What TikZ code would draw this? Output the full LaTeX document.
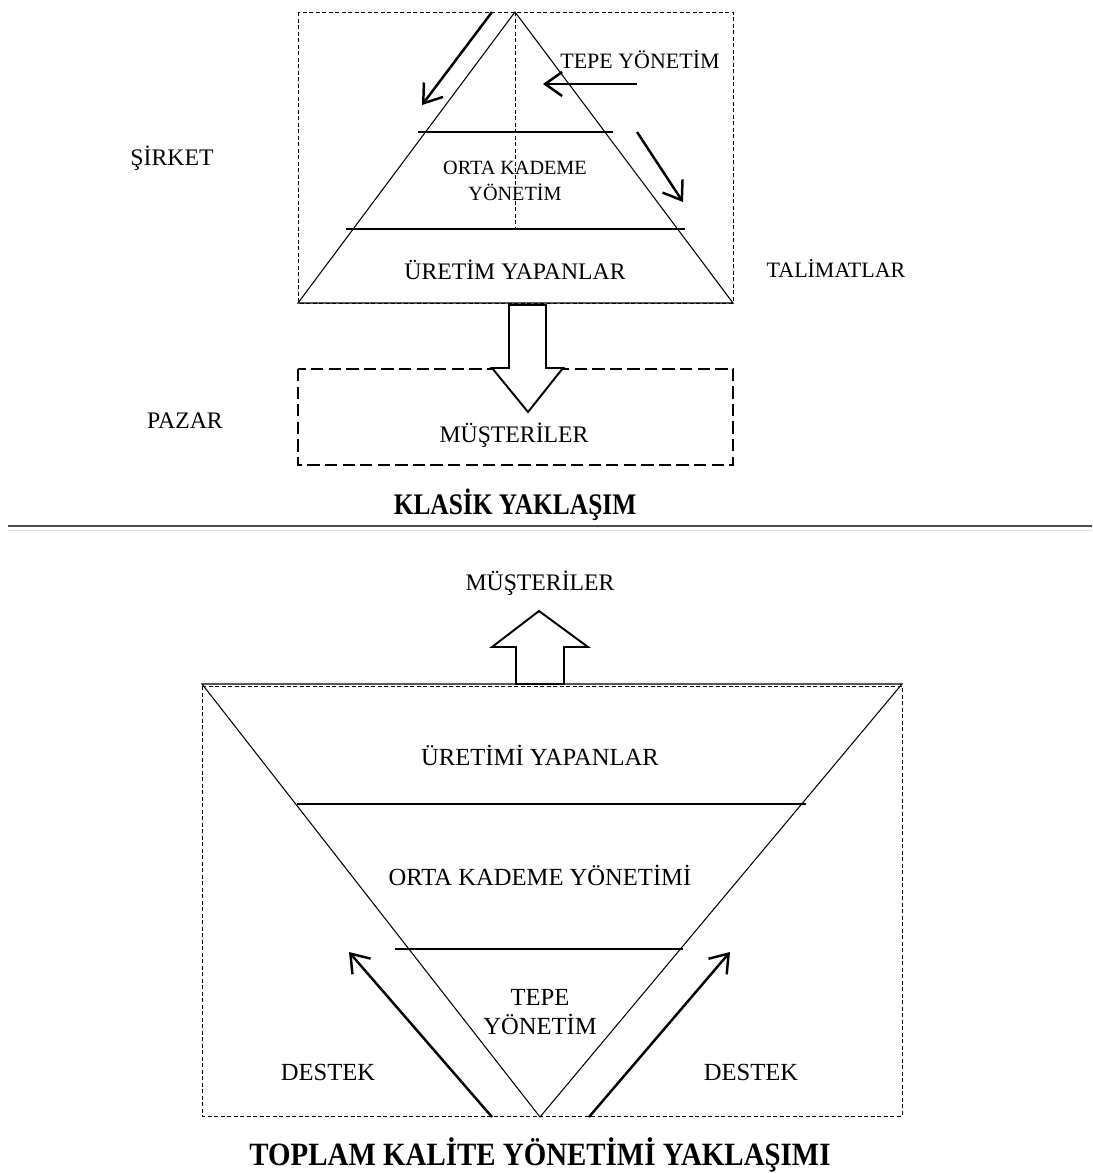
\documentclass[tikz,border=0pt]{standalone}
\usepackage{fontspec}
\setmainfont{Liberation Serif}
\usetikzlibrary{arrows.meta, positioning}

\newcommand{\narrowtext}[2]{\scalebox{#1}[1]{#2}}

\begin{document}
\begin{tikzpicture}[
            x=0.02cm, y=-0.02cm,
            edge/.style={line width=0.6pt},
            finedash/.style={draw, line width=0.5pt, dash pattern=on 2.3pt off 1.4pt},
            boxdash/.style={draw, line width=0.9pt, dash pattern=on 7pt off 3pt},
            arr/.style={-{Straight Barb[length=3.4mm, width=4.8mm]}, line width=1.4pt},
            hollow/.style={draw, line width=1.1pt, fill=white, line join=miter},
            lbl/.style={font=\fontsize{13.5}{16}\selectfont, inner sep=1pt, align=center},
            blbl/.style={font=\fontsize{14}{17}\selectfont, inner sep=1pt, align=center},
            ttl/.style={font=\fontsize{17}{20}\selectfont\bfseries, inner sep=1pt}
          ]
          \useasboundingbox (0,0) rectangle (1092,1173);

          % klasik yaklasim
          \coordinate (apex)  at (515,12);
          \coordinate (bl)    at (298,303);
          \coordinate (br)    at (733,303);
          \coordinate (mid)   at (515,229);
          \draw[finedash] (298,12) rectangle (733,303);
          \draw[edge] (bl) -- (apex) -- (br) -- cycle;
          \draw[edge] (418,132) -- (613,132);
          \draw[edge] (346,229) -- (685,229);
          \draw[finedash] (apex) -- (mid);

          \coordinate (a1s) at (492,12);   \coordinate (a1e) at (422,105);
          \coordinate (a2s) at (637,84);   \coordinate (a2e) at (543,84);
          \coordinate (a3s) at (637,132);  \coordinate (a3e) at (683,202);
          \draw[arr] (a1s) -- (a1e);
          \draw[arr] (a2s) -- (a2e);
          \draw[arr] (a3s) -- (a3e);

          \node[lbl, font=\fontsize{12.5}{15}\selectfont] (tepe) at (640,60) {TEPE YÖNETİM};
          \node[lbl, font=\fontsize{11.5}{14.7}\selectfont] (orta) at (515,181) {ORTA KADEME\\YÖNETİM};
          \node[lbl] (uret)    at (515,270) {ÜRETİM YAPANLAR};
          \node[lbl] (sirket)  at (172,158) {ŞİRKET};
          \node[lbl, font=\fontsize{12.5}{15}\selectfont] (talimat) at (836,268) {TALİMATLAR};
          \node[lbl] (pazar)   at (185,421) {PAZAR};

          \draw[boxdash] (298,369) rectangle (733,465);
          \node[lbl] (must) at (514,435) {MÜŞTERİLER};
          \draw[hollow] (509,305) -- (546,305) -- (546,368) -- (563,368) -- (528,412)
                        -- (492,368) -- (509,368) -- cycle;

          \node[ttl] (klasik) at (515,505) {\narrowtext{0.85}{KLASİK YAKLAŞIM}};

          % ayirici
          \draw[line width=1.2pt, black!70] (8,526) -- (1092,526);
          \draw[line width=0.9pt, black!12] (8,530.5) -- (1092,530.5);

          % toplam kalite yonetimi
          \coordinate (tl)   at (202,684);
          \coordinate (tr)   at (902,684);
          \coordinate (vtx)  at (540,1117);
          \draw[finedash] (202,686) rectangle (902,1116);
          \draw[edge] (tl) -- (tr) -- (vtx) -- cycle;
          \draw[edge] (297,804) -- (806,804);
          \draw[edge] (395,949) -- (683,949);

          \coordinate (d1s) at (492,1117); \coordinate (d1e) at (349,952);
          \coordinate (d2s) at (589,1117); \coordinate (d2e) at (730,952);
          \draw[arr] (d1s) -- (d1e);
          \draw[arr] (d2s) -- (d2e);

          \node[lbl] (must2) at (540,583) {MÜŞTERİLER};
          \draw[hollow] (516,684) -- (564,684) -- (564,647) -- (588,647) -- (539,611)
                        -- (492,647) -- (516,647) -- cycle;

          \node[blbl] (uret2)  at (540,755) {ÜRETİMİ YAPANLAR};
          \node[blbl] (orta2)  at (540,875) {ORTA KADEME YÖNETİMİ};
          \node[blbl] (tepe2)  at (540,1012) {TEPE\\YÖNETİM};
          \node[blbl] (destL)  at (328,1072) {DESTEK};
          \node[blbl] (destR)  at (751,1072) {DESTEK};

          \node[ttl, font=\fontsize{18.5}{21}\selectfont\bfseries] (tky) at (540,1155) {\narrowtext{0.89}{TOPLAM KALİTE YÖNETİMİ YAKLAŞIMI}};
        \end{tikzpicture}
\end{document}
